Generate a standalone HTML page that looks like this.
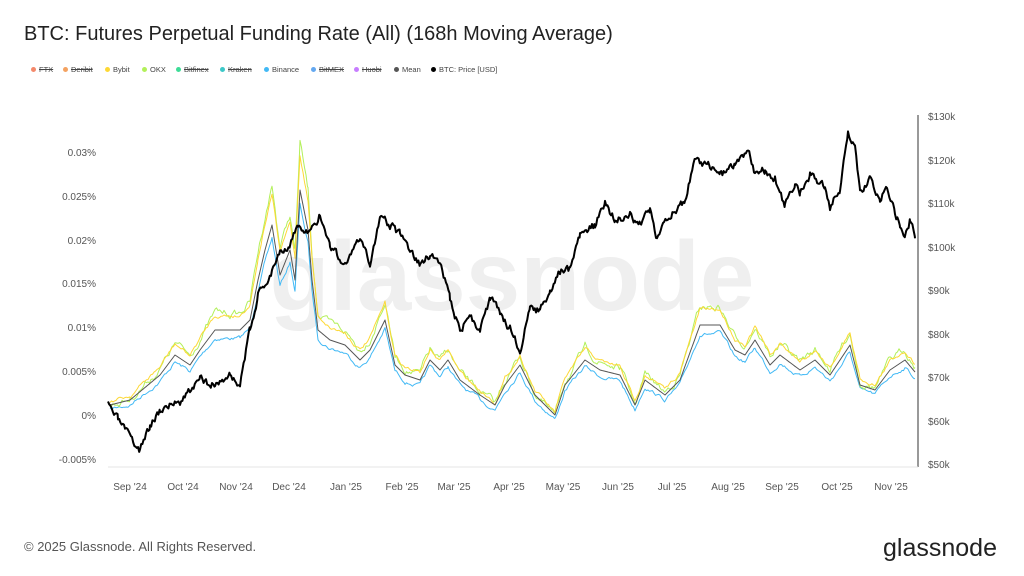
<!DOCTYPE html>
<html><head><meta charset="utf-8"><style>
body{margin:0;background:#fff;font-family:"Liberation Sans",sans-serif}
#c{position:relative;width:1024px;height:576px;overflow:hidden}
.t{position:absolute;white-space:nowrap}
.l{position:absolute;top:65px;font-size:7.5px;color:#444;white-space:nowrap}
.l i{display:inline-block;width:5px;height:5px;border-radius:50%;margin-right:3px;vertical-align:0px}
.s{text-decoration:line-through}
</style></head><body><div id="c">
<svg width="1024" height="576" style="position:absolute;left:0;top:0" id="s">
<text x="512" y="310" font-size="98" fill="#efefef" text-anchor="middle" font-family="Liberation Sans" font-weight="bold">glassnode</text>
<g font-size="10" fill="#555" font-family="Liberation Sans">
<text x="96" y="156" text-anchor="end">0.03%</text>
<text x="96" y="200" text-anchor="end">0.025%</text>
<text x="96" y="244" text-anchor="end">0.02%</text>
<text x="96" y="287" text-anchor="end">0.015%</text>
<text x="96" y="331" text-anchor="end">0.01%</text>
<text x="96" y="375" text-anchor="end">0.005%</text>
<text x="96" y="419" text-anchor="end">0%</text>
<text x="96" y="463" text-anchor="end">-0.005%</text>
<text x="928" y="120">$130k</text><text x="928" y="164">$120k</text><text x="928" y="207">$110k</text>
<text x="928" y="251">$100k</text><text x="928" y="294">$90k</text><text x="928" y="338">$80k</text>
<text x="928" y="381">$70k</text><text x="928" y="425">$60k</text><text x="928" y="468">$50k</text>
<g text-anchor="middle">
<text x="130" y="490">Sep '24</text><text x="183" y="490">Oct '24</text><text x="236" y="490">Nov '24</text>
<text x="289" y="490">Dec '24</text><text x="346" y="490">Jan '25</text><text x="402" y="490">Feb '25</text>
<text x="454" y="490">Mar '25</text><text x="509" y="490">Apr '25</text><text x="563" y="490">May '25</text>
<text x="618" y="490">Jun '25</text><text x="672" y="490">Jul '25</text><text x="728" y="490">Aug '25</text>
<text x="782" y="490">Sep '25</text><text x="837" y="490">Oct '25</text><text x="891" y="490">Nov '25</text>
</g></g>
<line x1="918" y1="115" x2="918" y2="467" stroke="#333" stroke-width="1"/>
<line x1="108" y1="467" x2="918" y2="467" stroke="#e5e5e5" stroke-width="1"/>
<g id="ser" fill="none" stroke-linejoin="round"></g>
<text x="24" y="551" font-size="13" fill="#555">© 2025 Glassnode. All Rights Reserved.</text>
<text x="997" y="556" font-size="25" fill="#222" text-anchor="end">glassnode</text>
</svg>
<div class="t" style="left:24px;top:23px;font-size:20px;color:#222">BTC: Futures Perpetual Funding Rate (All) (168h Moving Average)</div>
<div class="l" style="left:31px"><i style="background:#f4896b"></i><span class="s">FTX</span></div>
<div class="l" style="left:63px"><i style="background:#f4a261"></i><span class="s">Deribit</span></div>
<div class="l" style="left:105px"><i style="background:#fdd835"></i>Bybit</div>
<div class="l" style="left:142px"><i style="background:#b2f05a"></i>OKX</div>
<div class="l" style="left:176px"><i style="background:#3ddc97"></i><span class="s">Bitfinex</span></div>
<div class="l" style="left:220px"><i style="background:#3cc8c8"></i><span class="s">Kraken</span></div>
<div class="l" style="left:264px"><i style="background:#42b9f5"></i>Binance</div>
<div class="l" style="left:311px"><i style="background:#64a8f0"></i><span class="s">BitMEX</span></div>
<div class="l" style="left:354px"><i style="background:#c77dff"></i><span class="s">Huobi</span></div>
<div class="l" style="left:394px"><i style="background:#555"></i>Mean</div>
<div class="l" style="left:431px"><i style="background:#000"></i>BTC: Price [USD]</div>
<script>
var mean=[[110,405],[130,400],[160,375],[175,355],[190,365],[200,350],[215,330],[240,330],[250,320],[258,280],[265,250],[272,225],[280,275],[290,250],[295,280],[300,190],[308,230],[312,280],[318,330],[330,340],[345,345],[360,360],[370,350],[385,320],[395,365],[405,375],[420,380],[430,360],[440,370],[448,360],[460,380],[480,395],[495,405],[505,385],[520,365],[535,395],[555,415],[565,385],[585,360],[600,370],[620,375],[635,405],[645,380],[665,395],[680,380],[700,325],[720,325],[735,350],[745,355],[755,340],[770,365],[780,355],[800,370],[815,360],[830,375],[850,345],[860,385],[875,390],[890,370],[905,360],[915,372]];
var price=[[108,405],[118,420],[125,430],[132,442],[140,450],[150,425],[160,410],[170,405],[180,400],[190,390],[200,380],[215,385],[230,375],[240,385],[250,330],[258,295],[265,285],[272,270],[280,250],[290,245],[298,225],[305,235],[312,230],[320,215],[330,245],[345,265],[360,240],[370,265],[380,215],[390,225],[400,235],[410,250],[420,265],[430,255],[440,260],[450,300],[460,330],[470,315],[480,330],[490,300],[500,310],[510,330],[520,350],[530,310],[540,310],[550,295],[560,270],[570,270],[580,235],[595,225],[605,205],[615,220],[630,215],[640,225],[650,210],[657,240],[670,215],[685,200],[695,160],[710,165],[720,175],[735,165],[748,150],[755,175],[765,170],[775,180],[785,205],[795,185],[800,195],[810,175],[825,185],[830,205],[840,190],[848,135],[855,150],[860,195],[870,180],[880,200],[887,185],[895,215],[900,225],[905,240],[910,220],[915,235]];
function interp(pts,step){var o=[];for(var i=0;i<pts.length-1;i++){var a=pts[i],b=pts[i+1];for(var x=a[0];x<b[0];x+=step){var t=(x-a[0])/(b[0]-a[0]);o.push([x,a[1]+(b[1]-a[1])*t]);}}o.push(pts[pts.length-1]);return o;}
var seed=7;function rnd(){seed=(seed*16807)%2147483647;return seed/2147483647-0.5;}
function path(pts){return 'M'+pts.map(function(p){return p[0].toFixed(1)+','+p[1].toFixed(1)}).join('L');}
var m=interp(mean,1.5),out='';
function variant(k,nz,sh,col,w){var n=0;var p=m.map(function(q){n=n*0.8+rnd()*nz;var y=415+(q[1]-415)*k+n+sh;return [q[0],y];});out+='<path d="'+path(p)+'" stroke="'+col+'" stroke-width="'+w+'"/>';}
variant(0.95,3,4,"#42b9f5",1);
variant(1.22,6,2,"#b2f05a",1);
variant(1.15,3,-2,"#fdd835",1);
out+='<path d="'+path(m)+'" stroke="#555" stroke-width="1"/>';
var pp=interp(price,1.2);seed=3;var n=0;pp=pp.map(function(q){n=n*0.5+rnd()*7;return [q[0],q[1]+n];});
out+='<path d="'+path(pp)+'" stroke="#000" stroke-width="2"/>';
document.getElementById('ser').innerHTML=out;
</script>
</div></body></html>
